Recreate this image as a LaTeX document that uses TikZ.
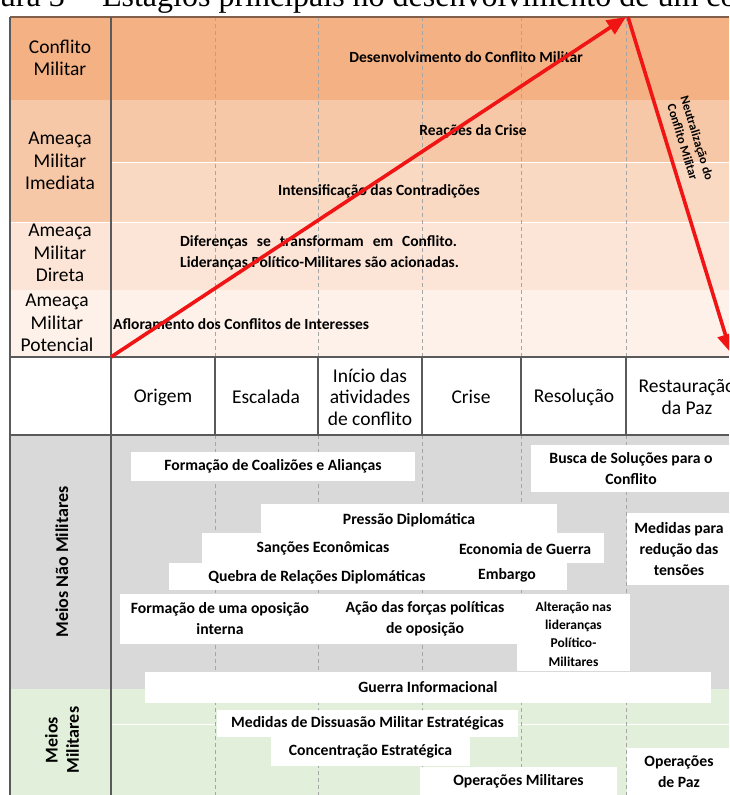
\documentclass[tikz,border=0pt]{standalone}
\usepackage{fontspec}
\setmainfont{Carlito}
\newfontfamily\ttlfont{Liberation Serif}
\usetikzlibrary{arrows.meta}
\definecolor{cmil}{RGB}{244,177,131}
\definecolor{cime}{RGB}{247,200,167}
\definecolor{cint}{RGB}{250,217,195}
\definecolor{cdir}{RGB}{252,229,214}
\definecolor{cpot}{RGB}{253,241,233}
\definecolor{cgray}{RGB}{217,217,217}
\definecolor{cgreen}{RGB}{226,239,218}
\definecolor{cred}{RGB}{240,20,20}
\definecolor{cborder}{RGB}{90,90,90}
\definecolor{ctop}{RGB}{130,95,75}
\tikzset{
  lab/.style={font=\fontsize{19.5}{22.5}\selectfont, align=center, inner sep=0pt},
  hdr/.style={font=\fontsize{19.5}{21.5}\selectfont, align=center, inner sep=0pt},
  inner/.style={font=\bfseries\fontsize{15.5}{20}\selectfont, inner sep=0pt},
  wbox/.style={fill=white, inner sep=0pt, font=\bfseries\fontsize{15.7}{21}\selectfont, align=center},
  btxt/.style={font=\bfseries\fontsize{15.7}{21}\selectfont, align=center, inner sep=0pt},
  smtxt/.style={font=\bfseries\fontsize{13.5}{18.3}\selectfont, align=center, inner sep=0pt},
  dashv/.style={draw=gray!70, line width=0.6pt, dash pattern=on 4pt off 3pt},
  solidv/.style={draw=cborder, line width=1.2pt},
  redarrow/.style={draw=cred, line width=3.6pt, -{Triangle[length=19pt,width=16pt]}},
  rowsep/.style={draw=white, line width=0.8pt}
}
\begin{document}
\begin{tikzpicture}[x=1pt,y=-1pt]
\useasboundingbox (0,0) rectangle (729,795);
\clip (0,0) rectangle (729,795);
\fill[white] (0,0) rectangle (729,795);
% title (cut off at the top edge)
\begin{scope}
\clip (0,0) rectangle (729,14);
\node[anchor=base west, inner sep=0pt, font=\ttlfont\fontsize{32}{36}\selectfont] (title) at (-43,6) {Figura 3 -- Estágios principais no desenvolvimento de um conflito};
\end{scope}
% top section backgrounds
\fill[cmil] (10,17) rectangle (729,100);
\fill[cime] (10,100) rectangle (729,162);
\fill[cint] (111,162) rectangle (729,222);
\fill[cime] (10,162) rectangle (111,222);
\fill[cdir] (10,222) rectangle (729,290);
\fill[cpot] (10,290) rectangle (729,357);
\draw[rowsep] (111,162) -- (729,162);
\draw[rowsep] (10,222) -- (729,222);
% bottom sections
\fill[cgray] (10,435) rectangle (729,689);
\fill[cgreen] (10,689) rectangle (729,795);
\draw[rowsep] (111,724) -- (729,724);
% dashed verticals
\foreach \xx in {215,318,422,521,626}{
  \draw[dashv] (\xx,17) -- (\xx,357);
  \draw[dashv] (\xx,435) -- (\xx,795);
}
% header verticals
\foreach \xx in {215,318,422,521,626}{
  \draw[solidv] (\xx,357) -- (\xx,435);
}
% borders
\draw[ctop, line width=1.2pt] (10,17) -- (729,17);
\draw[cborder, line width=1.6pt] (10,357) -- (729,357);
\draw[cborder, line width=1.6pt] (10,435) -- (729,435);
\draw[cborder, line width=1.2pt] (10,17) -- (10,795);
\draw[cborder, line width=1.6pt] (111,17) -- (111,795);
% left labels
\node[lab] (lconf) at (60,58) {Conflito\\Militar};
\node[lab] (lime) at (60,161) {Ameaça\\Militar\\Imediata};
\node[lab] (ldir) at (60,253) {Ameaça\\Militar\\Direta};
\node[lab] (lpot) at (57,323) {Ameaça\\Militar\\Potencial};
% header
\node[hdr] (h1) at (163,397) {Origem};
\node[hdr] (h2) at (266,397) {Escalada};
\node[hdr] (h3) at (370,397) {Início das\\atividades\\de conflito};
\node[hdr] (h4) at (471,397) {Crise};
\node[hdr] (h5) at (574,397) {Resolução};
\node[hdr] (h6) at (687,397) {Restauração\\da Paz};
% top texts
\node[inner] (t1) at (466,57) {Desenvolvimento do Conflito Militar};
\node[inner] (t2) at (473,131) {Reações da Crise};
\node[inner] (t3) at (379,191) {Intensificação das Contradições};
\node[inner, anchor=west] (t4) at (180,242) {Diferenças\hspace{9pt}se\hspace{9pt}transformam\hspace{9pt}em\hspace{9pt}Conflito.};
\node[inner, anchor=west] (t5) at (180,263) {Lideranças Político-Militares são acionadas.};
\node[inner, anchor=west] (t6) at (113,324) {Afloramento dos Conflitos de Interesses};
% red arrows
\coordinate (orig) at (111,357);
\coordinate (peak) at (626,17);
\coordinate (peakb) at (628,17);
\coordinate (fall) at (731,353);
\draw[redarrow] (orig) -- (peak);
\draw[redarrow] (peakb) -- (fall);
\node[font=\bfseries\fontsize{12.5}{15}\selectfont, align=center, rotate=-73, inner sep=0pt] (neut) at (690,140) {Neutralização do\\Conflito Militar};
% side labels bottom
\node[font=\bfseries\fontsize{18}{21}\selectfont, rotate=90, inner sep=0pt] (mnm) at (62,562) {Meios Não Militares};
\node[font=\bfseries\fontsize{18}{21}\selectfont, rotate=90, align=center, inner sep=0pt] (mm) at (62,740) {Meios\\Militares};
% white boxes - non military
\node[wbox, minimum width=284pt, minimum height=29pt] (coal) at (273,466.5) {Formação de Coalizões e Alianças};
\node[wbox, minimum width=200pt, minimum height=47pt] (busca) at (631,468.5) {Busca de Soluções para o\\Conflito};
\node[wbox, minimum width=296pt, minimum height=31pt] (press) at (409,519.5) {};
\node[wbox, minimum width=402pt, minimum height=30pt] (sanc) at (403,548) {};
\node[wbox, minimum width=398pt, minimum height=27pt] (queb) at (368,576.5) {};
\node[btxt] (tpress) at (409,520) {Pressão Diplomática};
\node[btxt] (tsanc) at (323,548) {Sanções Econômicas};
\node[btxt] (tecon) at (525,549) {Economia de Guerra};
\node[btxt] (tqueb) at (317,577) {Quebra de Relações Diplomáticas};
\node[btxt] (temb) at (507,575) {Embargo};
\node[wbox, minimum width=104pt, minimum height=72pt] (medred) at (679,549) {Medidas para\\redução das\\tensões};
\node[wbox, minimum width=397pt, minimum height=50pt] (opos) at (318.5,619) {};
\node[btxt] (topi) at (220,618.5) {Formação de uma oposição\\interna};
\node[btxt] (tofp) at (425,618.5) {Ação das forças políticas\\de oposição};
\node[wbox, minimum width=113pt, minimum height=77pt] (alter) at (573.5,632.5) {};
\node[smtxt] (talter) at (573.5,634) {Alteração nas\\lideranças\\Político-\\Militares};
\node[wbox, minimum width=566pt, minimum height=31pt] (guerra) at (428,687.5) {Guerra Informacional};
% military
\node[wbox, minimum width=301pt, minimum height=27pt] (diss) at (367.5,723.5) {Medidas de Dissuasão Militar Estratégicas};
\node[wbox, minimum width=199pt, minimum height=29pt] (conc) at (370.5,751.5) {Concentração Estratégica};
\node[wbox, minimum width=197pt, minimum height=29pt] (opmil) at (518.5,781.5) {Operações Militares};
\node[wbox, minimum width=104pt, minimum height=48pt] (oppaz) at (679,772) {Operações\\de Paz};
\end{tikzpicture}
\end{document}
